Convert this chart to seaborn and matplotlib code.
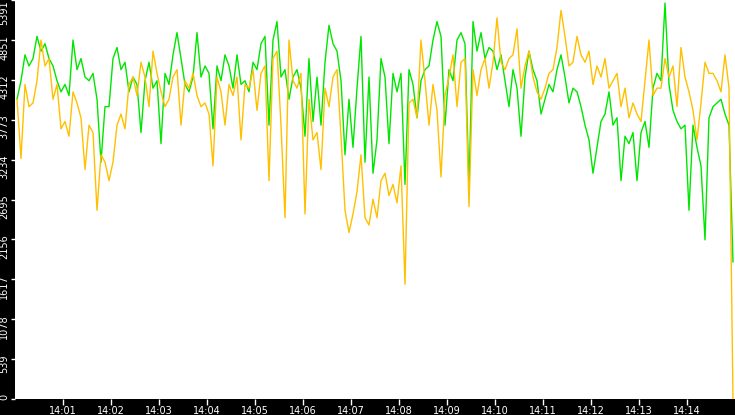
import numpy as np
import pandas as pd
import matplotlib
matplotlib.use("Agg")
import matplotlib.pyplot as plt
import matplotlib.transforms as mtransforms
import seaborn as sns

# one reading every 5 seconds from 14:00:00
start_time = "2024-01-01 14:00:00"
step = "5s"

green_vals = [
    4050, 4300, 4650, 4500, 4600, 4900, 4700, 4800, 4600, 4500, 4300, 4150, 4250, 4100, 4850, 4450, 4600, 4350, 4300, 4400, 4050, 3200, 3950,
    3950, 4600, 4750, 4450, 4550, 4150, 4350, 4250, 3600, 4300, 4550, 4200, 4300, 3450, 4400, 4250, 4650, 4950, 4600, 4250, 4150, 4350,
    4950, 4350, 4500, 4400, 3650, 4500, 4300, 4650, 4500, 4200, 4650, 4250, 4300, 4150, 4550, 4450, 4800, 4900, 3700, 4850, 5100, 4350, 4450,
    4050, 4350, 4450, 4200, 3550, 4600, 3750, 4350, 3700, 4550, 5050, 4800, 4700, 4300, 3300, 4050, 3400, 4200, 4900, 3200, 4350, 3050,
    3500, 4600, 4350, 3450, 4400, 4150, 4400, 2900, 4450, 4250, 3800, 4300, 4450, 4500, 4850, 5100, 4900, 3700, 4450, 4300, 4850, 4950, 4800,
    2850, 5100, 4700, 4950, 4600, 4750, 4700, 4450, 4650, 4300, 3950, 4450, 4200, 3550, 4350, 4700, 4450, 4300, 3850, 4050, 4250, 4150,
    4450, 4650, 4350, 4000, 4200, 4150, 3950, 3700, 3500, 3050, 3400, 3750, 3850, 4150, 3700, 3800, 2950, 3550, 3450, 3600, 2950, 3600, 3750,
    3400, 4200, 4400, 4300, 5350, 4250, 3900, 3750, 3650, 3700, 2550, 3700, 3400, 3150, 2150, 3800, 3950, 4000, 4050, 3850, 3700, 1850,
]

orange_vals = [
    4050, 3250, 4250, 3950, 4000, 4300, 4850, 4500, 4600, 4050, 4250, 3650, 3750, 3550, 4150, 4000, 3800, 3100, 3700, 3600, 2550, 3300, 3200,
    2950, 3200, 3700, 3850, 3650, 4250, 4350, 4100, 4550, 4350, 3950, 4700, 4400, 4150, 3950, 4050, 4350, 4450, 3700, 4300, 4200, 4400,
    4100, 3950, 4000, 3850, 3150, 4350, 4150, 3700, 4250, 4100, 4350, 3500, 4250, 4200, 4450, 3900, 4400, 4500, 2950, 4600, 4700, 3700, 2450,
    4850, 4300, 4200, 4400, 2500, 4050, 3500, 3600, 3100, 4200, 3950, 4350, 4450, 3550, 2550, 2250, 2500, 2800, 3300, 2450, 2350, 2700,
    2450, 2950, 3050, 2750, 2900, 2650, 3150, 1550, 4000, 4050, 3800, 4850, 4300, 3700, 4250, 3900, 3000, 4100, 4350, 4650, 3950, 4550, 4600,
    2600, 4450, 4100, 4450, 4600, 4200, 4550, 5150, 4550, 4450, 4600, 4650, 5000, 4200, 4500, 4700, 4350, 4150, 4050, 4200, 4400, 4450,
    4750, 5250, 4900, 4500, 4550, 4900, 4650, 4550, 4700, 4250, 4500, 4350, 4600, 4200, 4300, 4400, 3950, 4200, 3800, 4000, 3850, 3750, 4300,
    4850, 4100, 4200, 4200, 4600, 4350, 4500, 3950, 4750, 4350, 4150, 3900, 3500, 4000, 4550, 4400, 4400, 4300, 4150, 4650, 4200, 0,
]

y_ticks = [0, 539.1, 1078.2, 1617.3, 2156.4, 2695.5, 3234.6, 3773.7, 4312.8, 4851.9, 5391]
y_labels = ["0", "539", "1078", "1617", "2156", "2695", "3234", "3773", "4312", "4851", "5391"]
x_labels = ["14:01", "14:02", "14:03", "14:04", "14:05", "14:06", "14:07",
            "14:08", "14:09", "14:10", "14:11", "14:12", "14:13", "14:14"]

times = pd.date_range(start_time, periods=len(green_vals), freq=step) + pd.Timedelta("2.5s")
df = pd.DataFrame({"time": times, "green": green_vals, "orange": orange_vals})

sns.set_theme(style="white")
plt.rcParams["font.family"] = ["DejaVu Sans"]

fig = plt.figure(figsize=(7.35, 4.15), dpi=100, facecolor="black")
ax = fig.add_axes([15 / 735, 16 / 415, 720 / 735, 399 / 415])
ax.set_facecolor("white")

sns.lineplot(data=df, x="time", y="green", color="#00e600", linewidth=1.0, ax=ax)
sns.lineplot(data=df, x="time", y="orange", color="#ffc000", linewidth=1.0, ax=ax)

day = start_time[:10]
ax.set_xlim(pd.Timestamp(day + " 14:00:00"), pd.Timestamp(day + " 14:15:00"))
ax.set_ylim(0, 5391)

ax.set_xticks([pd.Timestamp(day + " " + t) for t in x_labels])
ax.set_xticklabels(x_labels)
ax.set_yticks(y_ticks)
ax.set_yticklabels(y_labels, rotation=90)

ax.set_xlabel("")
ax.set_ylabel("")
for s in ax.spines.values():
    s.set_visible(False)

ax.tick_params(axis="both", colors="white", labelsize=7, length=4, width=1,
               direction="out", bottom=True, left=True)
ax.tick_params(axis="x", pad=1)
ax.tick_params(axis="y", pad=1, length=3)

shift = mtransforms.ScaledTranslation(0, 5 / 100, fig.dpi_scale_trans)
labs = ax.get_yticklabels()
for lab in labs[:-1]:
    lab.set_va("top")
    lab.set_transform(lab.get_transform() + shift)
labs[-1].set_va("top")

fig.savefig("out.png", dpi=100, facecolor="black")
